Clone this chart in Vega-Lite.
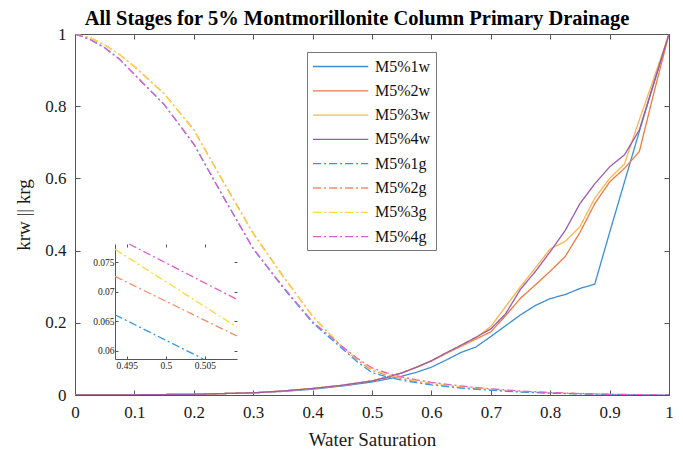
{
  "$schema": "https://vega.github.io/schema/vega-lite/v6.json",
  "width": 594,
  "height": 361,
  "autosize": {"type": "none"},
  "padding": {"left": 75, "top": 34, "right": 14, "bottom": 58},
  "background": "white",
  "config": {
    "view": {"stroke": null},
    "axis": {"labelFont": "Liberation Serif", "titleFont": "Liberation Serif", "labelColor": "#1a1a1a", "titleColor": "#1a1a1a", "titleFontWeight": "normal", "domainColor": "#555", "tickColor": "#555", "grid": false}
  },
  "title": {"text": "All Stages for 5% Montmorillonite Column Primary Drainage", "font": "Liberation Serif", "fontSize": 20.5, "fontWeight": "bold", "color": "#000", "anchor": "middle", "dx": -15, "offset": -4},
  "datasets": {
    "main": [
      {"s": "M5%1w", "x": 0, "y": 0}, {"s": "M5%1w", "x": 0.1, "y": 0.0005}, {"s": "M5%1w", "x": 0.2, "y": 0.002}, {"s": "M5%1w", "x": 0.3, "y": 0.006}, {"s": "M5%1w", "x": 0.35, "y": 0.01}, {"s": "M5%1w", "x": 0.4, "y": 0.016}, {"s": "M5%1w", "x": 0.45, "y": 0.025}, {"s": "M5%1w", "x": 0.5, "y": 0.036}, {"s": "M5%1w", "x": 0.525, "y": 0.044}, {"s": "M5%1w", "x": 0.55, "y": 0.052}, {"s": "M5%1w", "x": 0.575, "y": 0.063}, {"s": "M5%1w", "x": 0.6, "y": 0.077}, {"s": "M5%1w", "x": 0.625, "y": 0.097}, {"s": "M5%1w", "x": 0.65, "y": 0.118}, {"s": "M5%1w", "x": 0.675, "y": 0.133}, {"s": "M5%1w", "x": 0.7, "y": 0.162}, {"s": "M5%1w", "x": 0.725, "y": 0.192}, {"s": "M5%1w", "x": 0.75, "y": 0.222}, {"s": "M5%1w", "x": 0.775, "y": 0.248}, {"s": "M5%1w", "x": 0.8, "y": 0.267}, {"s": "M5%1w", "x": 0.825, "y": 0.278}, {"s": "M5%1w", "x": 0.85, "y": 0.295}, {"s": "M5%1w", "x": 0.875, "y": 0.307}, {"s": "M5%1w", "x": 0.9, "y": 0.45}, {"s": "M5%1w", "x": 0.925, "y": 0.59}, {"s": "M5%1w", "x": 0.95, "y": 0.73}, {"s": "M5%1w", "x": 0.975, "y": 0.865}, {"s": "M5%1w", "x": 1, "y": 1},
      {"s": "M5%2w", "x": 0, "y": 0}, {"s": "M5%2w", "x": 0.1, "y": 0.0005}, {"s": "M5%2w", "x": 0.2, "y": 0.002}, {"s": "M5%2w", "x": 0.3, "y": 0.006}, {"s": "M5%2w", "x": 0.35, "y": 0.011}, {"s": "M5%2w", "x": 0.4, "y": 0.018}, {"s": "M5%2w", "x": 0.45, "y": 0.027}, {"s": "M5%2w", "x": 0.5, "y": 0.039}, {"s": "M5%2w", "x": 0.525, "y": 0.049}, {"s": "M5%2w", "x": 0.55, "y": 0.061}, {"s": "M5%2w", "x": 0.575, "y": 0.077}, {"s": "M5%2w", "x": 0.6, "y": 0.094}, {"s": "M5%2w", "x": 0.625, "y": 0.115}, {"s": "M5%2w", "x": 0.65, "y": 0.135}, {"s": "M5%2w", "x": 0.675, "y": 0.155}, {"s": "M5%2w", "x": 0.7, "y": 0.175}, {"s": "M5%2w", "x": 0.725, "y": 0.22}, {"s": "M5%2w", "x": 0.75, "y": 0.268}, {"s": "M5%2w", "x": 0.775, "y": 0.305}, {"s": "M5%2w", "x": 0.8, "y": 0.343}, {"s": "M5%2w", "x": 0.825, "y": 0.383}, {"s": "M5%2w", "x": 0.85, "y": 0.45}, {"s": "M5%2w", "x": 0.875, "y": 0.53}, {"s": "M5%2w", "x": 0.9, "y": 0.59}, {"s": "M5%2w", "x": 0.925, "y": 0.628}, {"s": "M5%2w", "x": 0.95, "y": 0.674}, {"s": "M5%2w", "x": 0.975, "y": 0.84}, {"s": "M5%2w", "x": 1, "y": 1},
      {"s": "M5%3w", "x": 0, "y": 0}, {"s": "M5%3w", "x": 0.1, "y": 0.0005}, {"s": "M5%3w", "x": 0.2, "y": 0.002}, {"s": "M5%3w", "x": 0.3, "y": 0.006}, {"s": "M5%3w", "x": 0.35, "y": 0.011}, {"s": "M5%3w", "x": 0.4, "y": 0.018}, {"s": "M5%3w", "x": 0.45, "y": 0.027}, {"s": "M5%3w", "x": 0.5, "y": 0.039}, {"s": "M5%3w", "x": 0.525, "y": 0.049}, {"s": "M5%3w", "x": 0.55, "y": 0.061}, {"s": "M5%3w", "x": 0.575, "y": 0.077}, {"s": "M5%3w", "x": 0.6, "y": 0.095}, {"s": "M5%3w", "x": 0.625, "y": 0.116}, {"s": "M5%3w", "x": 0.65, "y": 0.137}, {"s": "M5%3w", "x": 0.675, "y": 0.158}, {"s": "M5%3w", "x": 0.7, "y": 0.19}, {"s": "M5%3w", "x": 0.725, "y": 0.245}, {"s": "M5%3w", "x": 0.75, "y": 0.3}, {"s": "M5%3w", "x": 0.775, "y": 0.352}, {"s": "M5%3w", "x": 0.8, "y": 0.405}, {"s": "M5%3w", "x": 0.825, "y": 0.425}, {"s": "M5%3w", "x": 0.85, "y": 0.466}, {"s": "M5%3w", "x": 0.875, "y": 0.545}, {"s": "M5%3w", "x": 0.9, "y": 0.6}, {"s": "M5%3w", "x": 0.925, "y": 0.64}, {"s": "M5%3w", "x": 0.95, "y": 0.762}, {"s": "M5%3w", "x": 0.975, "y": 0.88}, {"s": "M5%3w", "x": 1, "y": 1},
      {"s": "M5%4w", "x": 0, "y": 0}, {"s": "M5%4w", "x": 0.1, "y": 0.0005}, {"s": "M5%4w", "x": 0.2, "y": 0.002}, {"s": "M5%4w", "x": 0.3, "y": 0.006}, {"s": "M5%4w", "x": 0.35, "y": 0.011}, {"s": "M5%4w", "x": 0.4, "y": 0.018}, {"s": "M5%4w", "x": 0.45, "y": 0.027}, {"s": "M5%4w", "x": 0.5, "y": 0.039}, {"s": "M5%4w", "x": 0.525, "y": 0.049}, {"s": "M5%4w", "x": 0.55, "y": 0.061}, {"s": "M5%4w", "x": 0.575, "y": 0.077}, {"s": "M5%4w", "x": 0.6, "y": 0.095}, {"s": "M5%4w", "x": 0.625, "y": 0.117}, {"s": "M5%4w", "x": 0.65, "y": 0.138}, {"s": "M5%4w", "x": 0.675, "y": 0.16}, {"s": "M5%4w", "x": 0.7, "y": 0.183}, {"s": "M5%4w", "x": 0.725, "y": 0.225}, {"s": "M5%4w", "x": 0.75, "y": 0.293}, {"s": "M5%4w", "x": 0.775, "y": 0.342}, {"s": "M5%4w", "x": 0.8, "y": 0.397}, {"s": "M5%4w", "x": 0.825, "y": 0.455}, {"s": "M5%4w", "x": 0.85, "y": 0.53}, {"s": "M5%4w", "x": 0.875, "y": 0.585}, {"s": "M5%4w", "x": 0.9, "y": 0.632}, {"s": "M5%4w", "x": 0.925, "y": 0.665}, {"s": "M5%4w", "x": 0.95, "y": 0.734}, {"s": "M5%4w", "x": 0.975, "y": 0.868}, {"s": "M5%4w", "x": 1, "y": 1},
      {"s": "M5%2g", "x": 0, "y": 1}, {"s": "M5%2g", "x": 0.025, "y": 0.99}, {"s": "M5%2g", "x": 0.05, "y": 0.97}, {"s": "M5%2g", "x": 0.075, "y": 0.943}, {"s": "M5%2g", "x": 0.1, "y": 0.91}, {"s": "M5%2g", "x": 0.15, "y": 0.835}, {"s": "M5%2g", "x": 0.2, "y": 0.735}, {"s": "M5%2g", "x": 0.25, "y": 0.59}, {"s": "M5%2g", "x": 0.3, "y": 0.448}, {"s": "M5%2g", "x": 0.35, "y": 0.33}, {"s": "M5%2g", "x": 0.4, "y": 0.218}, {"s": "M5%2g", "x": 0.45, "y": 0.132}, {"s": "M5%2g", "x": 0.475, "y": 0.097}, {"s": "M5%2g", "x": 0.5, "y": 0.068}, {"s": "M5%2g", "x": 0.525, "y": 0.055}, {"s": "M5%2g", "x": 0.55, "y": 0.045}, {"s": "M5%2g", "x": 0.575, "y": 0.037}, {"s": "M5%2g", "x": 0.6, "y": 0.031}, {"s": "M5%2g", "x": 0.65, "y": 0.021}, {"s": "M5%2g", "x": 0.7, "y": 0.015}, {"s": "M5%2g", "x": 0.75, "y": 0.009}, {"s": "M5%2g", "x": 0.8, "y": 0.006}, {"s": "M5%2g", "x": 0.85, "y": 0.0035}, {"s": "M5%2g", "x": 0.9, "y": 0.0018}, {"s": "M5%2g", "x": 0.95, "y": 0.0006}, {"s": "M5%2g", "x": 1, "y": 0},
      {"s": "M5%3g", "x": 0, "y": 1}, {"s": "M5%3g", "x": 0.025, "y": 0.99}, {"s": "M5%3g", "x": 0.05, "y": 0.97}, {"s": "M5%3g", "x": 0.075, "y": 0.943}, {"s": "M5%3g", "x": 0.1, "y": 0.909}, {"s": "M5%3g", "x": 0.15, "y": 0.834}, {"s": "M5%3g", "x": 0.2, "y": 0.733}, {"s": "M5%3g", "x": 0.25, "y": 0.588}, {"s": "M5%3g", "x": 0.3, "y": 0.446}, {"s": "M5%3g", "x": 0.35, "y": 0.328}, {"s": "M5%3g", "x": 0.4, "y": 0.218}, {"s": "M5%3g", "x": 0.45, "y": 0.134}, {"s": "M5%3g", "x": 0.475, "y": 0.1}, {"s": "M5%3g", "x": 0.5, "y": 0.0717}, {"s": "M5%3g", "x": 0.525, "y": 0.058}, {"s": "M5%3g", "x": 0.55, "y": 0.048}, {"s": "M5%3g", "x": 0.575, "y": 0.04}, {"s": "M5%3g", "x": 0.6, "y": 0.033}, {"s": "M5%3g", "x": 0.65, "y": 0.023}, {"s": "M5%3g", "x": 0.7, "y": 0.016}, {"s": "M5%3g", "x": 0.75, "y": 0.01}, {"s": "M5%3g", "x": 0.8, "y": 0.0065}, {"s": "M5%3g", "x": 0.85, "y": 0.0038}, {"s": "M5%3g", "x": 0.9, "y": 0.002}, {"s": "M5%3g", "x": 0.95, "y": 0.0007}, {"s": "M5%3g", "x": 1, "y": 0},
      {"s": "M5%1g", "x": 0, "y": 1}, {"s": "M5%1g", "x": 0.025, "y": 0.985}, {"s": "M5%1g", "x": 0.05, "y": 0.962}, {"s": "M5%1g", "x": 0.075, "y": 0.93}, {"s": "M5%1g", "x": 0.1, "y": 0.888}, {"s": "M5%1g", "x": 0.15, "y": 0.805}, {"s": "M5%1g", "x": 0.2, "y": 0.695}, {"s": "M5%1g", "x": 0.25, "y": 0.548}, {"s": "M5%1g", "x": 0.3, "y": 0.405}, {"s": "M5%1g", "x": 0.35, "y": 0.298}, {"s": "M5%1g", "x": 0.4, "y": 0.2}, {"s": "M5%1g", "x": 0.45, "y": 0.128}, {"s": "M5%1g", "x": 0.475, "y": 0.092}, {"s": "M5%1g", "x": 0.5, "y": 0.062}, {"s": "M5%1g", "x": 0.525, "y": 0.05}, {"s": "M5%1g", "x": 0.55, "y": 0.041}, {"s": "M5%1g", "x": 0.575, "y": 0.034}, {"s": "M5%1g", "x": 0.6, "y": 0.028}, {"s": "M5%1g", "x": 0.65, "y": 0.019}, {"s": "M5%1g", "x": 0.7, "y": 0.013}, {"s": "M5%1g", "x": 0.75, "y": 0.008}, {"s": "M5%1g", "x": 0.8, "y": 0.005}, {"s": "M5%1g", "x": 0.85, "y": 0.003}, {"s": "M5%1g", "x": 0.9, "y": 0.0015}, {"s": "M5%1g", "x": 0.95, "y": 0.0005}, {"s": "M5%1g", "x": 1, "y": 0},
      {"s": "M5%4g", "x": 0, "y": 1}, {"s": "M5%4g", "x": 0.025, "y": 0.985}, {"s": "M5%4g", "x": 0.05, "y": 0.962}, {"s": "M5%4g", "x": 0.075, "y": 0.93}, {"s": "M5%4g", "x": 0.1, "y": 0.888}, {"s": "M5%4g", "x": 0.15, "y": 0.805}, {"s": "M5%4g", "x": 0.2, "y": 0.695}, {"s": "M5%4g", "x": 0.25, "y": 0.548}, {"s": "M5%4g", "x": 0.3, "y": 0.406}, {"s": "M5%4g", "x": 0.35, "y": 0.3}, {"s": "M5%4g", "x": 0.4, "y": 0.203}, {"s": "M5%4g", "x": 0.45, "y": 0.134}, {"s": "M5%4g", "x": 0.475, "y": 0.102}, {"s": "M5%4g", "x": 0.5, "y": 0.075}, {"s": "M5%4g", "x": 0.525, "y": 0.061}, {"s": "M5%4g", "x": 0.55, "y": 0.05}, {"s": "M5%4g", "x": 0.575, "y": 0.042}, {"s": "M5%4g", "x": 0.6, "y": 0.035}, {"s": "M5%4g", "x": 0.65, "y": 0.025}, {"s": "M5%4g", "x": 0.7, "y": 0.017}, {"s": "M5%4g", "x": 0.75, "y": 0.011}, {"s": "M5%4g", "x": 0.8, "y": 0.007}, {"s": "M5%4g", "x": 0.85, "y": 0.004}, {"s": "M5%4g", "x": 0.9, "y": 0.002}, {"s": "M5%4g", "x": 0.95, "y": 0.001}, {"s": "M5%4g", "x": 1, "y": 0}
    ],
    "inset": [
      {"s": "M5%1g", "x": 0.4935, "y": 0.0661}, {"s": "M5%1g", "x": 0.5048, "y": 0.0586},
      {"s": "M5%2g", "x": 0.4935, "y": 0.0726}, {"s": "M5%2g", "x": 0.5091, "y": 0.0625},
      {"s": "M5%3g", "x": 0.4935, "y": 0.0772}, {"s": "M5%3g", "x": 0.5091, "y": 0.064},
      {"s": "M5%4g", "x": 0.4953, "y": 0.0781}, {"s": "M5%4g", "x": 0.5091, "y": 0.0687}
    ]
  },
  "layer": [
    {
      "data": {"name": "main"},
      "mark": {"type": "line", "strokeWidth": 1.3, "clip": true},
      "encoding": {
        "x": {"field": "x", "type": "quantitative", "scale": {"domain": [0, 1], "nice": false, "zero": false},
              "axis": {"orient": "bottom", "title": "Water Saturation", "values": [0, 0.1, 0.2, 0.3, 0.4, 0.5, 0.6, 0.7, 0.8, 0.9, 1], "format": "~g", "labelFontSize": 17, "titleFontSize": 19, "tickSize": -5, "labelPadding": 14, "titlePadding": 10, "labelFlush": false}},
        "y": {"field": "y", "type": "quantitative", "scale": {"domain": [0, 1], "nice": false, "zero": false},
              "axis": {"orient": "left", "title": "krw || krg", "values": [0, 0.2, 0.4, 0.6, 0.8, 1], "format": "~g", "labelFontSize": 17, "titleFontSize": 19, "tickSize": -5, "labelPadding": 14, "titlePadding": 11, "labelFlush": false}},
        "color": {"field": "s", "type": "nominal",
                  "scale": {"domain": ["M5%1w", "M5%2w", "M5%3w", "M5%4w", "M5%1g", "M5%2g", "M5%3g", "M5%4g"], "range": ["#3a8fd6", "#f07a3e", "#fdb54c", "#9a5aae", "#2e9be6", "#f78e66", "#ffd83a", "#e05fcf"]},
                  "legend": {"orient": "none", "legendX": 232, "legendY": 18, "title": null, "labelFont": "Liberation Serif", "labelFontSize": 16, "labelColor": "#111", "symbolType": "M-1,0H5.5", "symbolSize": 289, "symbolStrokeWidth": 1.3, "labelOffset": 44, "rowPadding": 6.3, "padding": 5, "strokeColor": "#777", "fillColor": "white"}},
        "strokeDash": {"field": "s", "type": "nominal",
                  "scale": {"domain": ["M5%1w", "M5%2w", "M5%3w", "M5%4w", "M5%1g", "M5%2g", "M5%3g", "M5%4g"], "range": [[1, 0], [1, 0], [1, 0], [1, 0], [8, 3, 2, 3], [8, 3, 2, 3], [8, 3, 2, 3], [8, 3, 2, 3]]},
                  "legend": {"orient": "none", "legendX": 232, "legendY": 18, "title": null, "labelFont": "Liberation Serif", "labelFontSize": 16, "labelColor": "#111", "symbolType": "M-1,0H5.5", "symbolSize": 289, "symbolStrokeWidth": 1.3, "labelOffset": 44, "rowPadding": 6.3, "padding": 5, "strokeColor": "#777", "fillColor": "white"}}
      }
    },
    {
      "data": {"name": "main"},
      "mark": {"type": "point", "opacity": 0},
      "encoding": {
        "x": {"field": "x", "type": "quantitative", "scale": {"domain": [0, 1], "nice": false, "zero": false},
              "axis": {"orient": "top", "title": null, "labels": false, "values": [0, 0.1, 0.2, 0.3, 0.4, 0.5, 0.6, 0.7, 0.8, 0.9, 1], "tickSize": -5}},
        "y": {"field": "y", "type": "quantitative", "scale": {"domain": [0, 1], "nice": false, "zero": false},
              "axis": {"orient": "right", "title": null, "labels": false, "values": [0, 0.2, 0.4, 0.6, 0.8, 1], "tickSize": -5}}
      }
    },
    {
      "layer": [
        {
          "data": {"values": [{}]},
          "mark": {"type": "rect", "fill": "white", "stroke": "#555", "strokeWidth": 1},
          "encoding": {
            "x": {"datum": 0.4935, "type": "quantitative"},
            "x2": {"datum": 0.5091},
            "y": {"datum": 0.0586, "type": "quantitative"},
            "y2": {"datum": 0.0781}
          }
        },
        {
          "data": {"name": "inset"},
          "mark": {"type": "line", "strokeWidth": 1.3},
          "encoding": {
            "color": {"field": "s", "type": "nominal",
                      "scale": {"domain": ["M5%1w", "M5%2w", "M5%3w", "M5%4w", "M5%1g", "M5%2g", "M5%3g", "M5%4g"], "range": ["#3a8fd6", "#f07a3e", "#fdb54c", "#9a5aae", "#2e9be6", "#f78e66", "#ffd83a", "#e05fcf"]},
                      "legend": {"orient": "none", "legendX": 232, "legendY": 18, "title": null, "labelFont": "Liberation Serif", "labelFontSize": 16, "labelColor": "#111", "symbolType": "M-1,0H5.5", "symbolSize": 289, "symbolStrokeWidth": 1.3, "labelOffset": 44, "rowPadding": 6.3, "padding": 5, "strokeColor": "#777", "fillColor": "white"}},
            "strokeDash": {"field": "s", "type": "nominal",
                      "scale": {"domain": ["M5%1w", "M5%2w", "M5%3w", "M5%4w", "M5%1g", "M5%2g", "M5%3g", "M5%4g"], "range": [[1, 0], [1, 0], [1, 0], [1, 0], [8, 3, 2, 3], [8, 3, 2, 3], [8, 3, 2, 3], [8, 3, 2, 3]]},
                      "legend": {"orient": "none", "legendX": 232, "legendY": 18, "title": null, "labelFont": "Liberation Serif", "labelFontSize": 16, "labelColor": "#111", "symbolType": "M-1,0H5.5", "symbolSize": 289, "symbolStrokeWidth": 1.3, "labelOffset": 44, "rowPadding": 6.3, "padding": 5, "strokeColor": "#777", "fillColor": "white"}}
          }
        }
      ],
      "encoding": {
        "x": {"field": "x", "type": "quantitative", "scale": {"domain": [0.4935, 0.5091], "range": [40, 162], "nice": false, "zero": false},
              "axis": {"orient": "bottom", "title": null, "offset": -36, "values": [0.495, 0.5, 0.505], "format": "~g", "labelFontSize": 9.5, "tickSize": -3, "labelPadding": 4, "labelFlush": false}},
        "y": {"field": "y", "type": "quantitative", "scale": {"domain": [0.0586, 0.0781], "range": [325, 210], "nice": false, "zero": false},
              "axis": {"orient": "left", "title": null, "offset": -40, "values": [0.06, 0.065, 0.07, 0.075], "format": "~g", "labelFontSize": 9.5, "tickSize": -3, "labelPadding": 4, "labelFlush": false}}
      }
    },
    {
      "data": {"name": "inset"},
      "mark": {"type": "point", "opacity": 0},
      "encoding": {
        "x": {"field": "x", "type": "quantitative", "scale": {"domain": [0.4935, 0.5091], "range": [40, 162], "nice": false, "zero": false},
              "axis": {"orient": "top", "title": null, "labels": false, "domain": false, "offset": -210, "values": [0.495, 0.5, 0.505], "tickSize": -3}},
        "y": {"field": "y", "type": "quantitative", "scale": {"domain": [0.0586, 0.0781], "range": [325, 210], "nice": false, "zero": false},
              "axis": {"orient": "right", "title": null, "labels": false, "domain": false, "offset": -432, "values": [0.06, 0.065, 0.07, 0.075], "tickSize": -3}}
      }
    }
  ],
  "resolve": {"scale": {"x": "independent", "y": "independent"}, "axis": {"x": "independent", "y": "independent"}}
}
